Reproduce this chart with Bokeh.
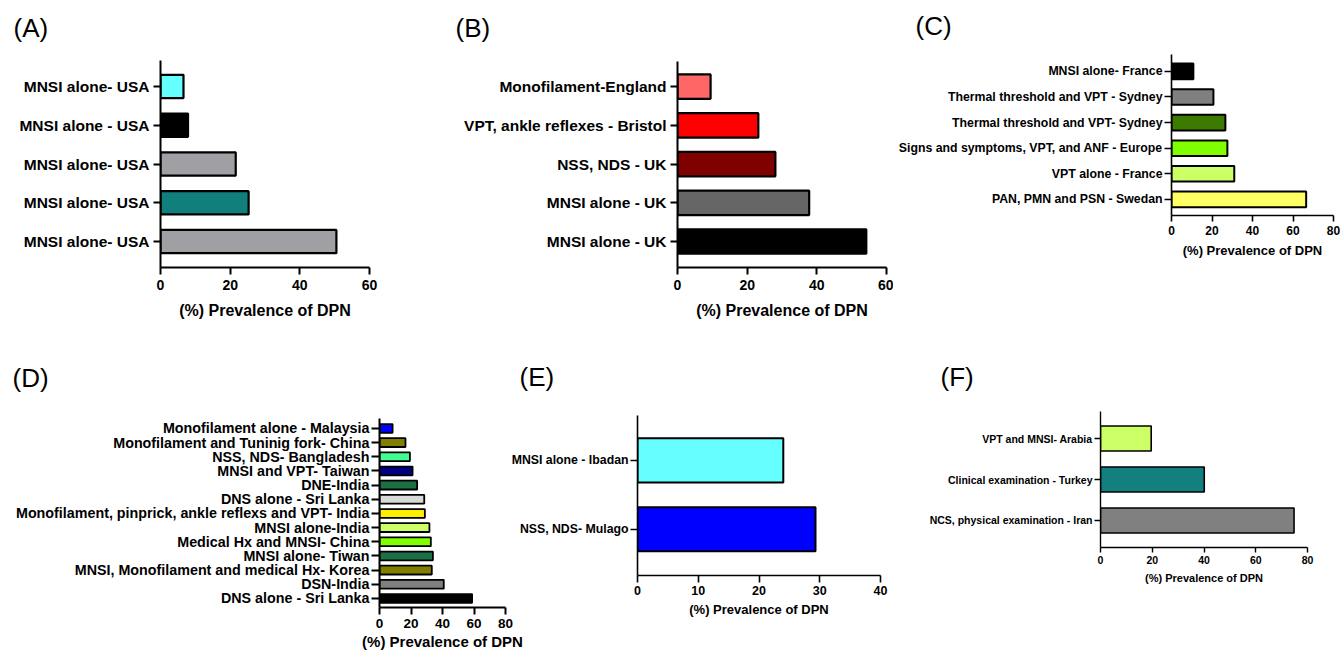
from bokeh.plotting import figure
from bokeh.models import Range1d, FixedTicker, Title, ColumnDataSource
from bokeh.layouts import row, column
from bokeh.embed import file_html
from bokeh.resources import INLINE

FONT = "Liberation Sans"
AXIS_TITLE = "(%) Prevalence of DPN"

# ---------------- data (bars listed top to bottom) ----------------
a_labels = ["MNSI alone- USA", "MNSI alone - USA", "MNSI alone- USA", "MNSI alone- USA", "MNSI alone- USA"]
a_values = [6.6, 7.9, 21.6, 25.3, 50.5]
a_colors = ["#66FFFF", "#000000", "#A0A0A4", "#117F7B", "#A0A0A4"]
a_ticks = [0, 20, 40, 60]

b_labels = ["Monofilament-England", "VPT, ankle reflexes - Bristol", "NSS, NDS - UK", "MNSI alone - UK", "MNSI alone - UK"]
b_values = [9.5, 23.2, 28.1, 37.8, 54.2]
b_colors = ["#FF6666", "#FF0000", "#800000", "#666666", "#000000"]
b_ticks = [0, 20, 40, 60]

c_labels = ["MNSI alone- France", "Thermal threshold and VPT - Sydney", "Thermal threshold and VPT- Sydney",
            "Signs and symptoms, VPT, and ANF - Europe", "VPT alone - France", "PAN, PMN and PSN - Swedan"]
c_values = [10.8, 20.7, 26.6, 27.6, 31.0, 66.5]
c_colors = ["#000000", "#808080", "#3C7A00", "#80FF00", "#CCFF66", "#FFFF66"]
c_ticks = [0, 20, 40, 60, 80]

d_labels = ["Monofilament alone - Malaysia", "Monofilament and Tuninig fork- China", "NSS, NDS- Bangladesh",
            "MNSI and VPT- Taiwan", "DNE-India", "DNS alone - Sri Lanka",
            "Monofilament, pinprick, ankle reflexs and VPT- India", "MNSI alone-India", "Medical Hx and MNSI- China",
            "MNSI alone- Tiwan", "MNSI, Monofilament and medical Hx- Korea", "DSN-India", "DNS alone - Sri Lanka"]
d_values = [8.3, 16.5, 19.3, 21.0, 23.9, 28.4, 28.8, 31.7, 32.6, 33.9, 33.2, 40.8, 58.8]
d_colors = ["#0000FF", "#808000", "#40FF90", "#000080", "#1B7045", "#D9D9D9", "#FFEE00", "#CCFF66",
            "#80FF00", "#1B7045", "#808000", "#808080", "#000000"]
d_ticks = [0, 20, 40, 60, 80]

e_labels = ["MNSI alone - Ibadan", "NSS, NDS- Mulago"]
e_values = [24.0, 29.3]
e_colors = ["#66FFFF", "#0000FF"]
e_ticks = [0, 10, 20, 30, 40]

f_labels = ["VPT and MNSI- Arabia", "Clinical examination - Turkey", "NCS, physical examination - Iran"]
f_values = [19.6, 40.1, 74.8]
f_colors = ["#CCFF66", "#138080", "#808080"]
f_ticks = [0, 20, 40, 60, 80]


def panel(tag, labels, values, colors, ticks, g):
    n = len(labels)
    ys = [n - 1 - i for i in range(n)]
    src = ColumnDataSource(dict(y=ys, right=values, color=colors))
    p = figure(width=g["w"], height=g["h"], x_range=Range1d(0, ticks[-1]),
               y_range=Range1d(-g["pad_lo"], n - 1 + g["pad_hi"]),
               output_backend="svg", toolbar_location=None,
               min_border_left=g["mbl"], min_border_right=g["mbr"],
               min_border_top=g["mbt"], min_border_bottom=g["mbb"],
               border_fill_color=None, background_fill_color=None,
               outline_line_color=None)
    p.frame_align = False
    p.xgrid.visible = False
    p.ygrid.visible = False
    p.hbar(y="y", left=0, right="right", height=g["bar_h"], source=src,
           fill_color="color", line_color="black", line_width=g["bar_lw"])

    for ax in (p.xaxis, p.yaxis):
        ax.axis_line_color = "black"
        ax.axis_line_width = g["axis_lw"]
        ax.major_tick_line_color = "black"
        ax.major_tick_line_width = g["axis_lw"]
        ax.major_tick_in = 0
        ax.minor_tick_line_color = None
        ax.major_label_text_font = FONT
        ax.major_label_text_font_style = "bold"
        ax.major_label_text_color = "black"

    xa = p.xaxis[0]
    xa.ticker = FixedTicker(ticks=ticks)
    xa.major_tick_out = g["xt_out"]
    xa.major_label_standoff = g["xl_so"]
    xa.major_label_text_font_size = g["xt_fs"]
    xa.axis_label = AXIS_TITLE
    xa.axis_label_text_font = FONT
    xa.axis_label_text_font_style = "bold"
    xa.axis_label_text_font_size = g["tt_fs"]
    xa.axis_label_text_color = "black"
    xa.axis_label_standoff = g["tt_so"]

    ya = p.yaxis[0]
    ya.ticker = FixedTicker(ticks=ys)
    ya.major_label_overrides = {y: lab for y, lab in zip(ys, labels)}
    ya.major_tick_out = g["yt_out"]
    ya.major_label_standoff = g["yl_so"]
    ya.major_label_text_font_size = g["yl_fs"]

    if "gap" in g:
        # blank spacer placed next to the frame (first added = nearest the frame)
        p.add_layout(Title(text=" ", standoff=g["gap"], text_font_size="1px", text_color="white"), "above")
    p.add_layout(Title(text=tag, align="left", vertical_align="top",
                       offset=g["lab_off"], standoff=g["lab_so"],
                       text_font=FONT, text_font_size="26px", text_font_style="normal",
                       text_color="black"), "above")
    if "margin" in g:
        p.margin = g["margin"]
    return p


ga = dict(w=420, h=338, mbl=160, mbr=51, mbt=60, mbb=71, pad_lo=0.67, pad_hi=0.67, bar_h=0.6, bar_lw=2.2,
          axis_lw=2, xt_out=7, xl_so=5, xt_fs="14px", tt_fs="16px", tt_so=9, yt_out=7, yl_so=4, yl_fs="15.5px",
          lab_off=-147, lab_so=0, gap=13)
gb = dict(w=473, h=338, mbl=257, mbr=7, mbt=61, mbb=71, pad_lo=0.67, pad_hi=0.65, bar_h=0.63, bar_lw=2.2,
          axis_lw=2, xt_out=7, xl_so=5, xt_fs="14px", tt_fs="16px", tt_so=9, yt_out=7, yl_so=4, yl_fs="15.5px",
          lab_off=-222, lab_so=0, gap=14)
gc = dict(w=448, h=338, mbl=278, mbr=8, mbt=54, mbb=123, pad_lo=0.63, pad_hi=0.66, bar_h=0.61, bar_lw=2,
          axis_lw=1.6, xt_out=6, xl_so=4, xt_fs="12px", tt_fs="13px", tt_so=5, yt_out=7, yl_so=2, yl_fs="12.3px",
          lab_off=-256, lab_so=0, gap=9)
gd = dict(w=532, h=318, mbl=379, mbr=27, mbt=80, mbb=49, pad_lo=0.64, pad_hi=0.7, bar_h=0.62, bar_lw=1.8,
          axis_lw=2, xt_out=7, xl_so=4, xt_fs="13.5px", tt_fs="15px", tt_so=2, yt_out=8, yl_so=2, yl_fs="14.3px",
          lab_off=-367, lab_so=47)
ge = dict(w=395, h=318, mbl=132, mbr=20, mbt=77, mbb=81, pad_lo=0.67, pad_hi=0.65, bar_h=0.64, bar_lw=2,
          axis_lw=1.6, xt_out=7, xl_so=3, xt_fs="12.5px", tt_fs="13px", tt_so=4, yt_out=7, yl_so=2, yl_fs="12.3px",
          lab_off=-118, lab_so=43, margin=(0, 0, 0, -27))
gf = dict(w=441, h=318, mbl=200, mbr=34, mbt=73, mbb=109, pad_lo=0.66, pad_hi=0.66, bar_h=0.61, bar_lw=1.6,
          axis_lw=1.4, xt_out=5, xl_so=3, xt_fs="10.5px", tt_fs="11px", tt_so=5, yt_out=6, yl_so=2, yl_fs="10.5px",
          lab_off=-160, lab_so=35)

pa = panel("(A)", a_labels, a_values, a_colors, a_ticks, ga)
pb = panel("(B)", b_labels, b_values, b_colors, b_ticks, gb)
pc = panel("(C)", c_labels, c_values, c_colors, c_ticks, gc)
pd_ = panel("(D)", d_labels, d_values, d_colors, d_ticks, gd)
pe = panel("(E)", e_labels, e_values, e_colors, e_ticks, ge)
pf = panel("(F)", f_labels, f_values, f_colors, f_ticks, gf)

layout = column(row(pa, pb, pc), row(pd_, pe, pf))
open("out.html", "w").write(file_html(layout, INLINE))
